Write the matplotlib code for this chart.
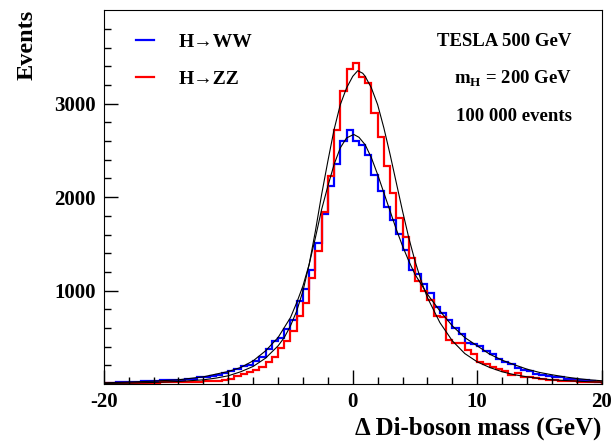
import matplotlib
matplotlib.use("Agg")
import matplotlib.pyplot as plt
import numpy as np

plt.rcParams['font.family'] = ['Liberation Serif', 'DejaVu Serif']
plt.rcParams['font.weight'] = 'bold'
plt.rcParams['axes.unicode_minus'] = False
plt.rcParams['mathtext.fontset'] = 'custom'
plt.rcParams['mathtext.rm'] = 'Liberation Serif:bold'
plt.rcParams['mathtext.bf'] = 'Liberation Serif:bold'

# histogram: 80 bins of 0.5 GeV from -20 to 20
bin_edges = np.arange(-20, 20.25, 0.5)

ww_counts = [15, 17, 19, 21, 23, 25, 28, 31, 35, 39,
             41, 44, 48, 53, 60, 71, 78, 89, 100, 114,
             135, 160, 192, 206, 249, 292, 374, 463, 488, 587,
             683, 890, 1014, 1217, 1512, 1815, 2117, 2349, 2598, 2719,
             2605, 2555, 2448, 2235, 2064, 1893, 1751, 1601, 1431, 1217,
             1174, 1068, 979, 826, 765, 683, 605, 541, 445, 427,
             409, 349, 327, 267, 238, 214, 167, 153, 142, 107,
             100, 89, 78, 71, 60, 53, 46, 40, 33, 26]

zz_counts = [8, 9, 10, 11, 12, 13, 14, 16, 17, 18,
             20, 21, 23, 24, 26, 27, 29, 33, 36, 43,
             60, 89, 107, 125, 149, 185, 238, 285, 381, 463,
             569, 730, 872, 1139, 1423, 1840, 2224, 2722, 3139, 3370,
             3434, 3281, 3224, 2904, 2641, 2335, 2043, 1779, 1573, 1350,
             1103, 996, 897, 725, 715, 470, 445, 445, 363, 327,
             238, 214, 185, 160, 135, 100, 115, 78, 71, 64,
             53, 46, 43, 36, 32, 28, 25, 22, 20, 18]

ww_fit_x = [-20, -18, -16, -14, -12, -10, -9, -8, -7, -6, -5, -4.5, -4, -3.5, -3, -2.5, -2, -1.5, -1, -0.5,
            0, 0.1, 0.5, 1, 1.5, 2, 2.5, 3, 3.5, 4, 4.5, 5, 6, 7, 8, 9, 10, 11, 12, 13, 14, 15, 16, 17, 18, 19, 20]
ww_fit_y = [14, 21, 32, 46, 78, 135, 178, 249, 356, 498, 712, 872, 1050, 1281, 1566, 1868, 2117, 2349, 2527, 2633,
            2665, 2669, 2640, 2560, 2420, 2242, 2046, 1851, 1655, 1477, 1317, 1174, 961, 783, 623, 498, 409, 320, 256, 206, 160, 125, 100, 78, 60, 46, 36]

zz_fit_x = [-20, -18, -16, -14, -12, -11, -10, -9, -8, -7, -6, -5.5, -5, -4.5, -4, -3.5, -3, -2.5, -2, -1.5, -1, -0.5,
            0, 0.4, 0.8, 1, 1.5, 2, 2.5, 3, 3.5, 4, 4.5, 5, 5.5, 6, 7, 8, 9, 10, 11, 12, 13, 14, 15, 16, 17, 18, 19, 20]
zz_fit_y = [7, 11, 18, 28, 46, 64, 89, 132, 189, 278, 409, 498, 623, 783, 996, 1281, 1637, 2028, 2384, 2722, 2989, 3167,
            3292, 3352, 3325, 3292, 3167, 2989, 2740, 2456, 2153, 1851, 1566, 1317, 1103, 925, 658, 463, 327, 238, 178, 132, 100, 78, 60, 46, 39, 32, 25, 21]

fig = plt.figure(figsize=(6.14, 4.41), dpi=100)
ax = fig.add_axes([0.169, 0.129, 0.811, 0.848])

ax.stairs(ww_counts, bin_edges, color='#0000ff', linewidth=1.6, label='H\u2192WW')
ax.stairs(zz_counts, bin_edges, color='#ff0000', linewidth=1.6, label='H\u2192ZZ')
ax.plot(ww_fit_x, ww_fit_y, color='black', linewidth=0.8)
ax.plot(zz_fit_x, zz_fit_y, color='black', linewidth=0.8)

ax.set_xlim(-20, 20)
ax.set_ylim(0, 4000)
ax.set_xticks([-20, -10, 0, 10, 20])
ax.set_xticks(np.arange(-20, 21, 2), minor=True)
ax.set_yticks([1000, 2000, 3000])
ax.set_yticks(np.arange(200, 4000, 200), minor=True)
ax.tick_params(which='both', direction='in', top=False, right=False)
ax.tick_params(which='major', length=10, width=1, labelsize=15, pad=6)
ax.tick_params(which='minor', length=5, width=1)
for lab in ax.get_xticklabels() + ax.get_yticklabels():
    lab.set_fontweight('bold')

ax.set_xlabel('\u0394 Di-boson mass (GeV)', fontsize=18, fontweight='bold', loc='right', labelpad=3)
ax.set_ylabel('Events', fontsize=17.5, fontweight='bold', loc='top', labelpad=12)

leg = ax.legend(loc='upper left', bbox_to_anchor=(0.03, 0.985), frameon=False,
                handlelength=0.9, handletextpad=1.3, labelspacing=1.0,
                prop={'size': 14, 'weight': 'bold'})

ax.text(0.94, 0.915, 'TESLA 500 GeV', transform=ax.transAxes, ha='right', va='center',
        fontsize=13.5, fontweight='bold')
ax.text(0.94, 0.815, r'm$_{\rm H}$ = 200 GeV', transform=ax.transAxes, ha='right', va='center',
        fontsize=13.5, fontweight='bold')
ax.text(0.94, 0.715, '100 000 events', transform=ax.transAxes, ha='right', va='center',
        fontsize=13.5, fontweight='bold')

fig.savefig('out.png', dpi=100)
